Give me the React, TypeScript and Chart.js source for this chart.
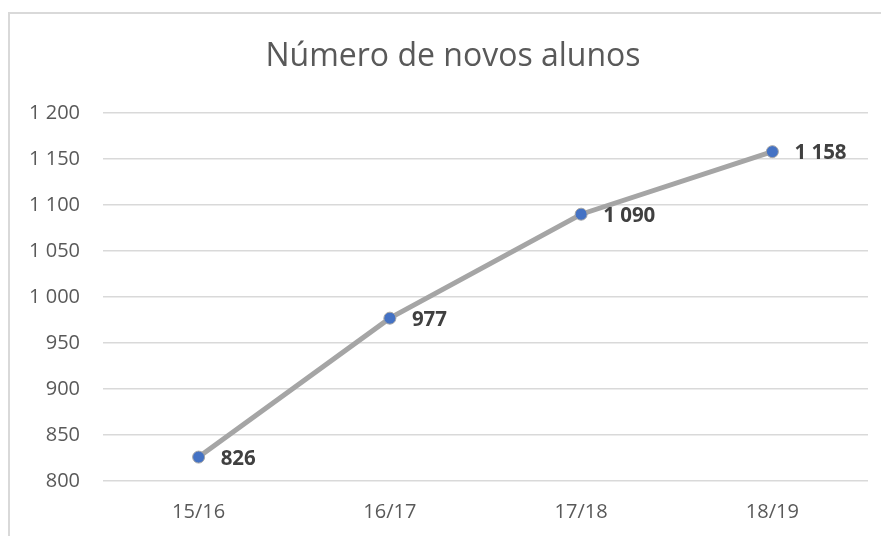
import React, { useEffect, useRef } from "react";
import { Chart, registerables } from "chart.js";

Chart.register(...registerables);

const categories = ["15/16", "16/17", "17/18", "18/19"];
const values = [826, 977, 1090, 1158];
const yMin = 800;
const yMax = 1200;
const yStep = 50;
const titleText = "Número de novos alunos";

const fmt = (v: number) => {
  const s = Math.round(v).toString();
  return s.replace(/\B(?=(\d{3})+(?!\d))/g, " ");
};

const FONT = "'Open Sans', 'DejaVu Sans', sans-serif";

const frame = {
  id: "frame",
  beforeDraw(chart: any) {
    const ctx = chart.ctx;
    ctx.save();
    ctx.fillStyle = "#ffffff";
    ctx.fillRect(0, 0, chart.width, chart.height);
    ctx.strokeStyle = "#d9d9d9";
    ctx.lineWidth = 2;
    ctx.beginPath();
    ctx.moveTo(9, chart.height + 5);
    ctx.lineTo(9, 13);
    ctx.lineTo(chart.width + 5, 13);
    ctx.stroke();
    ctx.font = `normal 32px ${FONT}`;
    ctx.fillStyle = "#595959";
    ctx.textAlign = "center";
    ctx.textBaseline = "middle";
    ctx.fillText(titleText, 453, 57);
    ctx.restore();
  },
};

const labels = {
  id: "valueLabels",
  afterDatasetsDraw(chart: any) {
    const ctx = chart.ctx;
    const meta = chart.getDatasetMeta(0);
    ctx.save();
    ctx.font = `bold 20.5px ${FONT}`;
    ctx.fillStyle = "#404040";
    ctx.textAlign = "left";
    ctx.textBaseline = "middle";
    meta.data.forEach((pt: any, i: number) => {
      ctx.fillText(fmt(values[i]), pt.x + 22, pt.y + 2);
    });
    ctx.restore();
  },
};

export default function App() {
  const ref = useRef<HTMLCanvasElement | null>(null);
  useEffect(() => {
    if (!ref.current) return;
    const chart = new Chart(ref.current, {
      type: "line",
      data: {
        labels: categories,
        datasets: [
          {
            data: values,
            borderColor: "#a5a5a5",
            borderWidth: 5,
            pointBackgroundColor: "#4472c4",
            pointBorderColor: "#a5a5a5",
            pointBorderWidth: 1,
            pointRadius: 6,
            tension: 0,
          },
        ],
      },
      options: {
        animation: false,
        responsive: false,
        maintainAspectRatio: false,
        layout: { padding: { left: 0, right: 13, top: 113, bottom: 0 } },
        plugins: {
          legend: { display: false },
          tooltip: { enabled: false },
          title: { display: false },
        },
        scales: {
          x: {
            offset: true,
            grid: { display: false, drawTicks: false },
            border: { display: false },
            ticks: {
              color: "#595959",
              font: { family: FONT, size: 20 },
              padding: 19,
            },
            afterFit(scale: any) {
              scale.height = 55;
            },
          },
          y: {
            min: yMin,
            max: yMax,
            grid: { color: "#d9d9d9", lineWidth: 1.5, drawTicks: false },
            border: { display: false },
            ticks: {
              stepSize: yStep,
              color: "#595959",
              font: { family: FONT, size: 20 },
              padding: 23,
              callback: (v: any) => fmt(Number(v)),
            },
            afterFit(scale: any) {
              scale.width = 103;
            },
          },
        },
      },
      plugins: [frame, labels],
    });
    return () => chart.destroy();
  }, []);
  return (
    <div style={{ position: "fixed", left: 0, top: 0, width: 881, height: 536 }}>
      <canvas ref={ref} width={881} height={536} style={{ display: "block" }} />
    </div>
  );
}
